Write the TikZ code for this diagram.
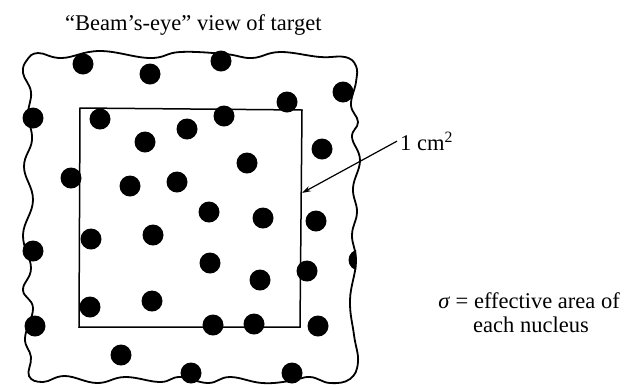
\documentclass[tikz,border=0pt]{standalone}
\usepackage{fontspec}
\setmainfont{Liberation Serif}
\usetikzlibrary{arrows.meta}
\begin{document}
\begin{tikzpicture}[x=1pt,y=-1pt,
  lbl/.style={font=\fontsize{22.5}{27}\selectfont, inner sep=0pt},
  border/.style={line width=1.8pt},
  sq/.style={line width=1.5pt},
  pointer/.style={line width=1.2pt, -{Stealth[length=9pt,width=5.5pt]}}]
\useasboundingbox (0,0) rectangle (626,384);
\draw[border] plot[smooth cycle, tension=0.7] coordinates {
  (38,53) (62,58) (100,51) (150,58) (180,52) (225,54) (252,58) (280,52) (320,57) (345,57)
  (356,66)
  (356,82) (351,105) (358,122) (352,137) (360,160) (353,188) (357,212) (352,235)
  (356,262) (350,300) (354,335) (358,362)
  (350,379) (330,383) (310,377) (290,381) (262,383) (230,377) (208,383) (180,377)
  (160,382) (125,377) (97,383) (65,376) (43,382)
  (29,376)
  (31,357) (25,338) (33,308) (23,290) (31,268) (23,235) (33,200) (24,167)
  (32,140) (28,115) (31,92) (23,73) (27,60)};
\draw[sq] (80,108) -- (302,110) -- (300,327) -- (79,327) -- cycle;
\foreach \x/\y in {83/64, 150/74, 221/61, 343/92, 287/102, 33/118, 100/119, 224/116,
  187/129, 145/142, 322/149, 247/163, 71/178, 130/186, 177/182, 209/212, 263/218,
  316/221, 91/239, 153/235, 33/251, 210/263, 307/271, 260/280, 90/307, 152/301,
  213/325, 254/324, 318/326, 35/326, 121/355, 191/373, 292/373}
  \fill (\x,\y) circle (10.5pt);
\begin{scope}
  \clip (340,240) rectangle (356,280);
  \fill (359,260) circle (10.5pt);
\end{scope}
\node[lbl, anchor=base west] (title) at (65,30) {“Beam’s-eye” view of target};
\node[lbl, anchor=base west] (cm) at (400,150) {1 cm\textsuperscript{2}};
\coordinate (tip) at (302,193);
\draw[pointer] ([xshift=-3pt]cm.west) -- (tip);
\node[lbl, anchor=base] (sig) at (529,308) {\textit{σ} = effective area of};
\node[lbl, anchor=base] (nuc) at (531,332) {each nucleus};
\end{tikzpicture}
\end{document}
